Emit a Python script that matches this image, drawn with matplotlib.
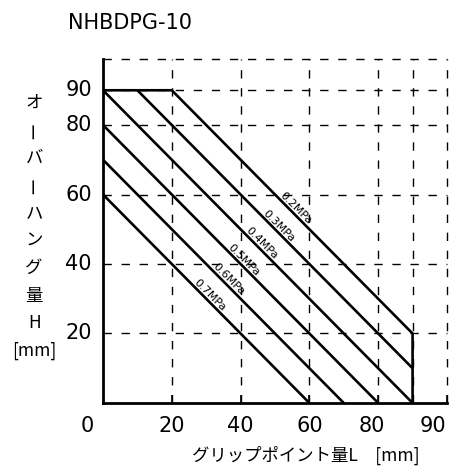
import matplotlib
matplotlib.use("Agg")
import matplotlib.pyplot as plt

plt.rcParams['font.family'] = ['DejaVu Sans', 'Noto Sans CJK JP']

# grip point L (x) / overhang H (y), one polyline per supply pressure
pressures = ["0.2MPa", "0.3MPa", "0.4MPa", "0.5MPa", "0.6MPa", "0.7MPa"]
line_x = [
    [0, 20, 90, 90],
    [10, 90],
    [0, 90],
    [0, 80],
    [0, 70],
    [0, 60],
]
line_y = [
    [90, 90, 20, 0],
    [90, 10],
    [90, 0],
    [80, 0],
    [70, 0],
    [60, 0],
]
# where each pressure label sits along its line (x value)
label_x = [55, 50, 45, 40, 35.5, 30]

grid_x = [20, 40, 60, 80, 90, 100]
grid_y = [20, 40, 60, 80, 90, 99]
xtick_vals = [0, 20, 40, 60, 80, 90]
xtick_text = ["0", "20", "40", "60", "80", "90"]
ytick_vals = [20, 40, 60, 80, 90]
ytick_text = ["20", "40", "60", "80", "90"]
ylabel_chars = ["オ", "ー", "バ", "ー", "ハ", "ン", "グ", "量", "H", "[mm]"]

fig = plt.figure(figsize=(4.49, 4.72), dpi=100)
ax = fig.add_axes([0.2294, 0.1462, 0.9955 - 0.2294, 0.875 - 0.1462])
ax.set_xlim(0, 100)
ax.set_ylim(0, 99)

for s in ["top", "right"]:
    ax.spines[s].set_visible(False)
for s in ["left", "bottom"]:
    ax.spines[s].set_linewidth(2.0)

# dashed grid
for gx in grid_x:
    ax.axvline(gx, color="black", lw=1.0, dashes=(6, 7), zorder=1, clip_on=False)
for gy in grid_y:
    ax.axhline(gy, color="black", lw=1.0, dashes=(6, 7), zorder=1, clip_on=False)

ax.set_xticks(grid_x)
ax.set_xticklabels([])
ax.tick_params(axis="x", direction="in", length=6, width=1.2, color="black")
ax.set_yticks([])

for xs, ys in zip(line_x, line_y):
    ax.plot(xs, ys, color="black", lw=1.9, solid_capstyle="butt", zorder=3)

for lab, lx, xs, ys in zip(pressures, label_x, line_x, line_y):
    # label rides on the diagonal part of the line (slope -1)
    ly = ys[-1] + (xs[-1] - lx) if xs[-1] != xs[-2] else ys[-2] + (xs[-2] - lx)
    ax.text(lx, ly, lab, rotation=-45, rotation_mode="anchor",
            ha="center", va="bottom", fontsize=8, zorder=4)

# tick labels (the drawing shifts the outer ones a little)
xlabel_shift = {0: -4.6, 80: -1.8, 90: 6.0}
for v, t in zip(xtick_vals, xtick_text):
    ax.text(v + xlabel_shift.get(v, 0), -6.5, t, ha="center", va="center",
            fontsize=15, clip_on=False)
for v, t in zip(ytick_vals, ytick_text):
    ax.text(-3.2, v, t, ha="right", va="center", fontsize=15, clip_on=False)

fig.text(0.152, 0.952, "NHBDPG-10", ha="left", va="center", fontsize=15)

fig.text(0.68, 0.036, "グリップポイント量L　[mm]", ha="center", va="center",
         fontsize=12.5, family=["Noto Sans CJK JP", "DejaVu Sans"])

y0 = 1 - 103 / 472
step = 27.5 / 472
for i, ch in enumerate(ylabel_chars):
    rot = 90 if ch == "ー" else 0
    fig.text(0.076, y0 - i * step, ch, ha="center", va="center", fontsize=12.5,
             rotation=rot, family=["Noto Sans CJK JP", "DejaVu Sans"])

fig.savefig("out.png", dpi=100)
